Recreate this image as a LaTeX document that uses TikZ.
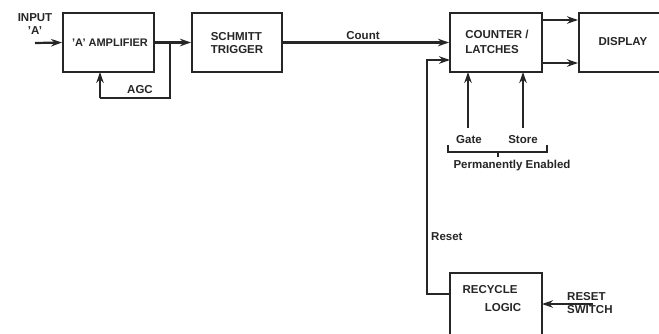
\documentclass[tikz,border=0pt]{standalone}
\usepackage{fontspec}
\setmainfont{Liberation Sans}
\usetikzlibrary{arrows.meta}
\begin{document}
\begin{tikzpicture}[x=1pt,y=-1pt,
  conn/.style={line width=2.2pt, draw=black!85},
  blk/.style={draw=black!85, rectangle, inner sep=0pt, line width=2pt},
  lbl/.style={font=\bfseries\fontsize{11.5}{13.5}\selectfont, inner sep=0pt, text=black!85},
  arr/.style={conn, -{Stealth[length=11pt,width=7.5pt]}},
  ]
\clip (0,0) rectangle (659,333);
\fill[white] (0,0) rectangle (659,333);
% boxes
\node[blk, minimum width=91pt, minimum height=59pt] (amp) at (108.5,42.5) {};
\node[blk, minimum width=90pt, minimum height=59pt] (sch) at (237,42.5) {};
\node[blk, minimum width=92pt, minimum height=59pt] (cnt) at (496,42.5) {};
\node[blk, minimum width=122pt, minimum height=59pt] (dsp) at (640,42.5) {};
\node[blk, minimum width=92pt, minimum height=80pt] (rcy) at (496,313) {};
% texts
\node[lbl, align=center] (inlbl) at (35,24) {INPUT\\'A'};
\node[lbl, font=\bfseries\fontsize{11}{13}\selectfont] (amptxt) at (110,43) {'A' AMPLIFIER};
\node[lbl, align=left] (schtxt) at (237,43) {SCHMITT\\TRIGGER};
\node[lbl, align=left] (cnttxt) at (497,42) {COUNTER /\\[2pt]LATCHES};
\node[lbl] (dsptxt) at (623,42) {DISPLAY};
\node[lbl] (rcytxt1) at (490,290) {RECYCLE};
\node[lbl] (rcytxt2) at (503,308) {LOGIC};
\node[lbl] (count) at (363,36) {Count};
\node[lbl] (agc) at (140,90) {AGC};
\node[lbl] (gate) at (469,140) {Gate};
\node[lbl] (store) at (523,140) {Store};
\node[lbl] (perm) at (512,166) {Permanently Enabled};
\node[lbl, anchor=west] (reset) at (431,237) {Reset};
\node[lbl, align=left, anchor=west] (rsw) at (567,303) {RESET\\SWITCH};
% coordinates
\coordinate (in) at (35,43);
\coordinate (agcA) at (170,43);
\coordinate (agcB) at (170,98);
\coordinate (agcC) at (100,98);
\coordinate (agcD) at (100,72);
\coordinate (c2) at (450,60);
\coordinate (rA) at (427,60);
\coordinate (rB) at (427,294);
\coordinate (rC) at (450,294);
\coordinate (g0) at (468,128);
\coordinate (g1) at (468,72);
\coordinate (s0) at (523,128);
\coordinate (s1) at (523,72);
\coordinate (rs0) at (593,304);
\coordinate (rs1) at (542,304);
% connectors
\draw[arr] (in) -- (amp.west);
\draw[arr] (amp.east) -- (sch.west);
\draw[conn] (agcA) -- (agcB) -- (agcC);
\draw[arr] (agcC) -- (agcD);
\draw[arr] (sch.east) -- (cnt.west);
\draw[arr] (rC) -- (rB) -- (rA) -- (c2);
\draw[arr] (cnt.east |- 0,20) -- (dsp.west |- 0,20);
\draw[arr] (cnt.east |- 0,63) -- (dsp.west |- 0,63);
\draw[arr] (g0) -- (g1);
\draw[arr] (s0) -- (s1);
\draw[arr] (rs0) -- (rs1);
% bracket
\draw[conn, line width=1.5pt] (448,145) -- (448,152) -- (547,152) -- (547,145);
\draw[conn, line width=1.5pt] (498,152) -- (498,157);
\end{tikzpicture}
\end{document}
